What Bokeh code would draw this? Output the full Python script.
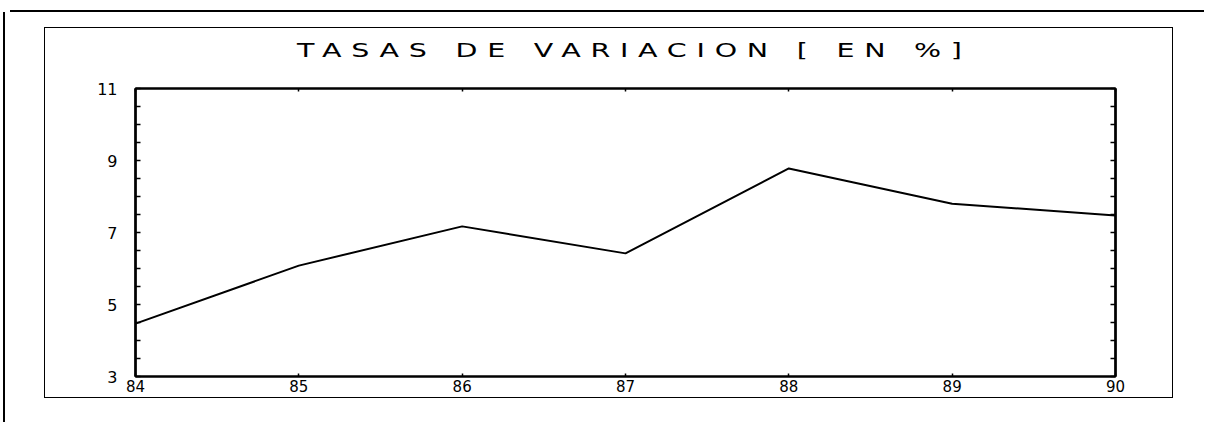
from bokeh.plotting import figure
from bokeh.models import LinearAxis, FixedTicker, Range1d, Div
from bokeh.layouts import column, row
from bokeh.embed import file_html
from bokeh.resources import INLINE

years = [84, 85, 86, 87, 88, 89, 90]
tasas = [4.47, 6.08, 7.17, 6.42, 8.78, 7.80, 7.47]
title_text = "TASAS DE VARIACION [ EN %]"
x_ticks = [84, 85, 86, 87, 88, 89, 90]
y_ticks = [3, 5, 7, 9, 11]
y_minor = [3.5, 4, 4.5, 5.5, 6, 6.5, 7.5, 8, 8.5, 9.5, 10, 10.5]

FONT = "DejaVu Sans"

W, H = 1127, 319
p = figure(width=W, height=H, output_backend="svg", toolbar_location=None,
           x_range=Range1d(84, 90), y_range=Range1d(3, 11),
           min_border_left=90, min_border_right=57,
           min_border_top=10, min_border_bottom=21,
           x_axis_type=None, y_axis_type=None)
p.margin = (0, 0, 0, 0)
p.xgrid.visible = False
p.ygrid.visible = False
p.outline_line_color = "black"
p.outline_line_width = 2
p.background_fill_color = "white"
p.border_fill_color = "white"


def style(ax):
    ax.axis_line_color = "black"
    ax.axis_line_width = 2.5
    ax.major_tick_in = 5
    ax.major_tick_out = 0
    ax.minor_tick_in = 5
    ax.minor_tick_out = 0
    ax.major_tick_line_color = "black"
    ax.minor_tick_line_color = "black"
    ax.major_tick_line_width = 1.5
    ax.minor_tick_line_width = 1.5
    ax.major_label_text_font = FONT
    ax.major_label_text_font_size = "16px"
    ax.major_label_text_color = "black"


yl = LinearAxis(ticker=FixedTicker(ticks=y_ticks, minor_ticks=y_minor))
style(yl)
yl.major_label_standoff = 18
p.add_layout(yl, "left")

yr = LinearAxis(ticker=FixedTicker(ticks=y_ticks, minor_ticks=y_minor))
style(yr)
yr.major_label_overrides = {t: "" for t in y_ticks}
yr.major_label_standoff = 0
p.add_layout(yr, "right")

xb = LinearAxis(ticker=FixedTicker(ticks=x_ticks, minor_ticks=[]))
style(xb)
xb.axis_line_width = 2
xb.major_tick_in = 3
xb.major_label_standoff = 3
xb.major_label_text_font_size = "15px"
p.add_layout(xb, "below")

xt = LinearAxis(ticker=FixedTicker(ticks=x_ticks, minor_ticks=[]))
style(xt)
xt.axis_line_width = 2
xt.major_tick_in = 3
xt.major_label_overrides = {t: "" for t in x_ticks}
xt.major_label_standoff = 0
p.add_layout(xt, "above")

p.line(years, tasas, line_color="black", line_width=2)

# title as real text, stretched like the wide plotter lettering
title_div = Div(
    text=('<div style="padding-left: 252px; padding-top: 11px; white-space: nowrap;">'
          '<span style="display: inline-block; transform: scaleX(1.5); '
          'transform-origin: 0 0; font-family: \'DejaVu Sans\'; font-size: 19px; '
          'letter-spacing: 6.5px; color: black; line-height: normal;">'
          + title_text + '</span></div>'),
    width=W, height=50, margin=(0, 0, 0, 0))

inner = column(title_div, p, margin=(16, 0, 0, 40),
               styles={"outline": "1.5px solid black"})

# page frame lines (scan border)
top_line = Div(text="", width=1194, height=2, margin=(10, 0, 0, 10),
               styles={"background-color": "black"})
left_line = Div(text="", width=2, height=410, margin=(0, 0, 0, 3),
                styles={"background-color": "black"})

layout = column(top_line, row(left_line, inner))
open("out.html", "w").write(file_html(layout, INLINE))
